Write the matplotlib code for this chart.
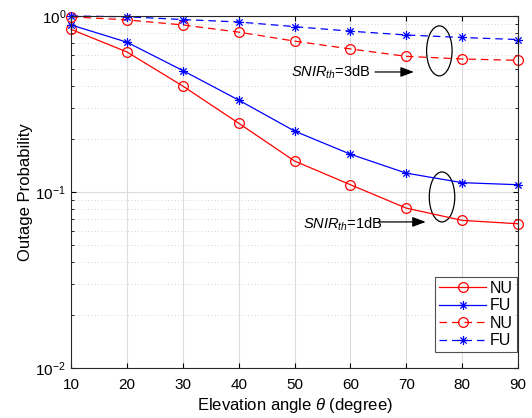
import matplotlib
matplotlib.use("Agg")
import matplotlib.pyplot as plt
from matplotlib.patches import Ellipse
from matplotlib.path import Path
from matplotlib.ticker import LogLocator, NullFormatter

plt.rcParams["font.family"] = ["Liberation Sans", "DejaVu Sans"]
plt.rcParams["mathtext.fontset"] = "custom"
plt.rcParams["mathtext.it"] = "Liberation Sans:italic"
plt.rcParams["mathtext.rm"] = "Liberation Sans"

theta = [10, 20, 30, 40, 50, 60, 70, 80, 90]
nu_1db = [0.84, 0.625, 0.40, 0.246, 0.150, 0.110, 0.081, 0.069, 0.066]
fu_1db = [0.89, 0.71, 0.49, 0.333, 0.222, 0.164, 0.128, 0.113, 0.110]
nu_3db = [0.99, 0.95, 0.89, 0.81, 0.72, 0.65, 0.59, 0.57, 0.56]
fu_3db = [1.0, 0.99, 0.955, 0.925, 0.87, 0.82, 0.78, 0.755, 0.735]

# matlab-like asterisk marker ('+' and 'x' combined)
ast = Path([(0, -1), (0, 1), (-1, 0), (1, 0),
            (-0.7, -0.7), (0.7, 0.7), (-0.7, 0.7), (0.7, -0.7)],
           [Path.MOVETO, Path.LINETO] * 4)

fig = plt.figure(figsize=(5.32, 4.18), dpi=100)
ax = fig.add_axes([0.1335, 0.1196, 0.8402, 0.8421])

kw = dict(lw=0.9, mew=0.9, clip_on=False)
ax.semilogy(theta, nu_1db, "-", color="red", marker="o", mfc="none", ms=7,
            label="NU", **kw)
ax.semilogy(theta, fu_1db, "-", color="blue", marker=ast, ms=6.5,
            label="FU", **kw)
ax.semilogy(theta, nu_3db, "--", color="red", marker="o", mfc="none", ms=7,
            dashes=(6, 4), label="NU", **kw)
ax.semilogy(theta, fu_3db, "--", color="blue", marker=ast, ms=6.5,
            dashes=(6, 4), label="FU", **kw)

ax.set_xlim(10, 90)
ax.set_ylim(1e-2, 1)
ax.set_xticks(theta)
ax.yaxis.set_major_locator(LogLocator(base=10, numticks=5))
ax.yaxis.set_minor_locator(LogLocator(base=10, subs=range(2, 10), numticks=20))
ax.yaxis.set_minor_formatter(NullFormatter())
ax.tick_params(which="both", direction="in", top=True, right=True,
               labelsize=11)
ax.tick_params(axis="x", pad=7)
ax.grid(True, which="major", color="#dcdcdc", lw=0.8, ls="-")
ax.grid(True, which="minor", axis="y", color="#c8c8c8", lw=0.6, ls=(0, (1, 3)))
ax.set_axisbelow(True)
for s in ax.spines.values():
    s.set_color("#262626")
    s.set_linewidth(0.8)

ax.set_xlabel(r"Elevation angle $\theta$ (degree)", fontsize=12, labelpad=3)
ax.set_ylabel("Outage Probability", fontsize=12, labelpad=2)

# ellipses grouping the curves
ax.add_patch(Ellipse((0.824, 0.901), 0.057, 0.142, transform=ax.transAxes,
                     fill=False, color="black", lw=0.9))
ax.add_patch(Ellipse((0.830, 0.486), 0.057, 0.142, transform=ax.transAxes,
                     fill=False, color="black", lw=0.9))

arw = dict(arrowstyle="-|>,head_length=0.8,head_width=0.3", color="black",
           lw=0.9, shrinkA=0, shrinkB=0)
ax.annotate("", xy=(0.767, 0.841), xytext=(0.680, 0.841),
            xycoords="axes fraction", arrowprops=arw)
ax.text(0.4915, 0.841, r"$SNIR_{th}$=3dB", fontsize=10.5, va="center",
        transform=ax.transAxes)
ax.annotate("", xy=(0.7935, 0.415), xytext=(0.687, 0.415),
            xycoords="axes fraction", arrowprops=arw)
ax.text(0.518, 0.409, r"$SNIR_{th}$=1dB", fontsize=10.5, va="center",
        transform=ax.transAxes)

leg = ax.legend(loc="lower right", bbox_to_anchor=(0.997, 0.045),
                fontsize=11.5, fancybox=False, edgecolor="#262626",
                handlelength=3.0, borderpad=0.25, labelspacing=0.15,
                handletextpad=0.2, borderaxespad=0)
leg.get_frame().set_linewidth(0.8)

fig.savefig("out.png", dpi=100)
